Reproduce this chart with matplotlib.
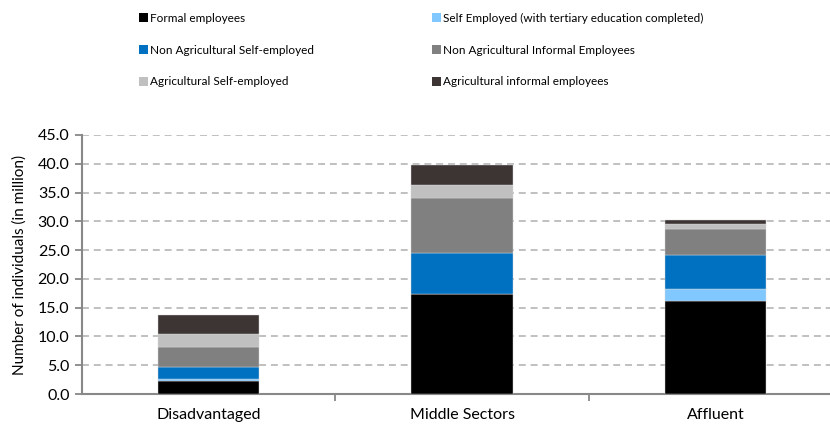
import matplotlib
matplotlib.use("Agg")
import matplotlib.pyplot as plt
from matplotlib.patches import Patch
import numpy as np

plt.rcParams["font.family"] = ["Lato", "DejaVu Sans"]
plt.rcParams["lines.scale_dashes"] = False

categories = ["Disadvantaged", "Middle Sectors", "Affluent"]
series_names = [
    "Formal employees",
    "Self Employed (with tertiary education completed)",
    "Non Agricultural Self-employed",
    "Non Agricultural Informal Employees",
    "Agricultural Self-employed",
    "Agricultural informal employees",
]
formal = [2.2, 17.4, 16.2]
self_tertiary = [0.4, 0.0, 2.0]
nonag_self = [2.1, 7.1, 6.0]
nonag_informal = [3.5, 9.55, 4.5]
ag_self = [2.3, 2.25, 0.9]
ag_informal = [3.2, 3.5, 0.6]

colors = ["#000000", "#80C8FF", "#0070C0", "#808080", "#C0C0C0", "#3D3434"]
y_ticks = np.arange(0, 45.1, 5)

fig = plt.figure(figsize=(8.3, 4.25), dpi=100)
ax = fig.add_axes([82 / 830, 1 - 394 / 425, 760 / 830, 259 / 425])

x = np.arange(len(categories))
bottom = np.zeros(len(categories))
handles = []
for vals, name, col in zip(
    [formal, self_tertiary, nonag_self, nonag_informal, ag_self, ag_informal],
    series_names, colors):
    vals = np.array(vals)
    ax.bar(x, vals, width=0.4, bottom=bottom, color=col, edgecolor="#d8d8d8",
           linewidth=0.3, zorder=3)
    bottom += vals
    handles.append(Patch(facecolor=col, edgecolor="none", label=name))

ax.set_xlim(-0.5, 2.5)
ax.set_ylim(0, 45)
ax.set_yticks(y_ticks)
ax.set_yticklabels([f"{v:.1f}" for v in y_ticks], fontsize=11.5)
ax.set_xticks(x)
ax.set_xticklabels(categories, fontsize=11.5)
ax.set_xticks([0.5, 1.5], minor=True)
ax.tick_params(axis="x", which="major", length=0, pad=10)
ax.tick_params(axis="x", which="minor", length=5, width=1.3, color="#888888")
ax.tick_params(axis="y", length=5, width=1.3, color="#888888", pad=4)

for s in ["top", "right"]:
    ax.spines[s].set_visible(False)
for s in ["left", "bottom"]:
    ax.spines[s].set_color("#888888")
    ax.spines[s].set_linewidth(1.5)

ax.yaxis.grid(True, color="#C0C0C0", linewidth=1.4, linestyle=(0, (5, 3.5)), zorder=0)
ax.set_axisbelow(True)
ax.set_ylabel("Number of individuals (in million)", fontsize=11, labelpad=8)

legend_kw = dict(loc="upper left", frameon=False, fontsize=8.5,
                 handlelength=0.8, handleheight=0.8, handletextpad=0.1,
                 labelspacing=1.75, borderaxespad=0, borderpad=0)
fig.legend(handles=[handles[0], handles[2], handles[4]],
           bbox_to_anchor=(139 / 830, 1 - 13 / 425), **legend_kw)
fig.legend(handles=[handles[1], handles[3], handles[5]],
           bbox_to_anchor=(432 / 830, 1 - 13 / 425), **legend_kw)

fig.savefig("out.png", dpi=100)
